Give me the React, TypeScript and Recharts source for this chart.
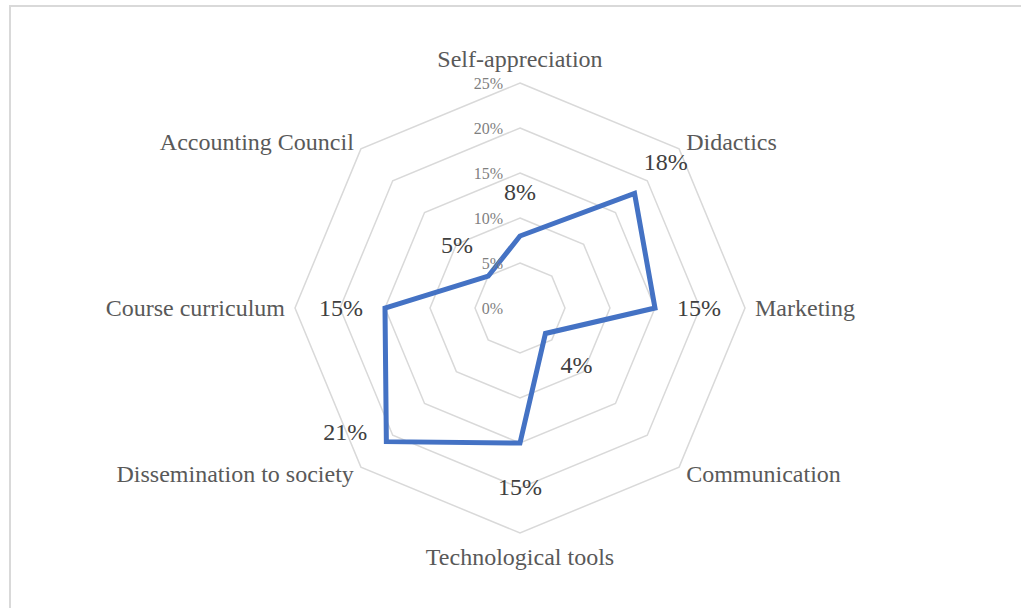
import React from "react";
import { RadarChart, Radar, PolarGrid, PolarAngleAxis, PolarRadiusAxis, LabelList } from "recharts";

const categories = [
  "Self-appreciation",
  "Didactics",
  "Marketing",
  "Communication",
  "Technological tools",
  "Dissemination to society",
  "Course curriculum",
  "Accounting Council",
];
const values = [0.08, 0.18, 0.15, 0.04, 0.15, 0.21, 0.15, 0.05];
const radiusTicks = [0, 0.05, 0.1, 0.15, 0.2, 0.25];

const data = categories.map((name, i) => ({ name, value: values[i] }));

const W = 1021;
const H = 608;
const CX = 520;
const CY = 308;
const R = 225;
const SERIF = '"Liberation Serif", "Times New Roman", serif';

const pct = (v: number) => `${Math.round(v * 100)}%`;

function AngleTick(props: any) {
  const { x, y, payload } = props;
  const dx = x - CX;
  const dy = y - CY;
  const len = Math.hypot(dx, dy) || 1;
  const ux = dx / len;
  const uy = dy / len;
  let anchor: "start" | "middle" | "end" = "middle";
  let tx = CX + ux * R;
  let ty = CY + uy * R;
  if (Math.abs(ux) < 0.1) {
    ty += uy * 24;
  } else {
    anchor = ux > 0 ? "start" : "end";
    tx += ux * 10;
    ty += uy * 10;
  }
  return (
    <text x={tx} y={ty} textAnchor={anchor} dominantBaseline="central" fontFamily={SERIF} fontSize={24} fill="#595959">
      {payload.value}
    </text>
  );
}

function RadiusTick(props: any) {
  const { x, y, payload } = props;
  return (
    <text x={x - 17} y={y} textAnchor="end" dominantBaseline="central" fontFamily={SERIF} fontSize={16} fill="#7f7f7f">
      {pct(payload.value)}
    </text>
  );
}

function ValueLabel(props: any) {
  const { x, y, value, index } = props;
  const dx = x - CX;
  const dy = y - CY;
  const len = Math.hypot(dx, dy) || 1;
  let tx = x + (dx / len) * 44;
  let ty = y + (dy / len) * 44;
  if (categories[index] === "Dissemination to society") {
    tx = x - 41;
    ty = y - 10;
  }
  return (
    <text x={tx} y={ty} textAnchor="middle" dominantBaseline="central" fontFamily={SERIF} fontSize={24} fill="#404040">
      {pct(value)}
    </text>
  );
}

export default function App() {
  return (
    <div style={{ position: "fixed", left: 0, top: 0, width: W, height: H, background: "#fff", overflow: "hidden" }}>
      <div
        style={{
          position: "absolute",
          left: 9,
          top: 5,
          width: W + 20,
          height: H + 20,
          borderLeft: "2px solid #d9d9d9",
          borderTop: "2px solid #d9d9d9",
        }}
      />
      <div style={{ position: "absolute", left: 0, top: 0 }}>
        <RadarChart width={W} height={H} data={data} cx={CX} cy={CY} outerRadius={R} startAngle={90} endAngle={-270}>
          <PolarGrid gridType="polygon" radialLines={false} stroke="#d9d9d9" strokeWidth={1.5} />
          <PolarAngleAxis dataKey="name" tick={<AngleTick />} tickLine={false} axisLine={false} />
          <PolarRadiusAxis
            angle={90}
            domain={[0, 0.25]}
            ticks={radiusTicks as any}
            tickCount={6}
            axisLine={false}
            tickLine={false}
            tick={<RadiusTick />}
          />
          <Radar
            dataKey="value"
            stroke="#4472C4"
            strokeWidth={5}
            fill="none"
            fillOpacity={0}
            isAnimationActive={false}
            strokeLinejoin="miter"
          >
            <LabelList dataKey="value" content={<ValueLabel />} />
          </Radar>
        </RadarChart>
      </div>
    </div>
  );
}
